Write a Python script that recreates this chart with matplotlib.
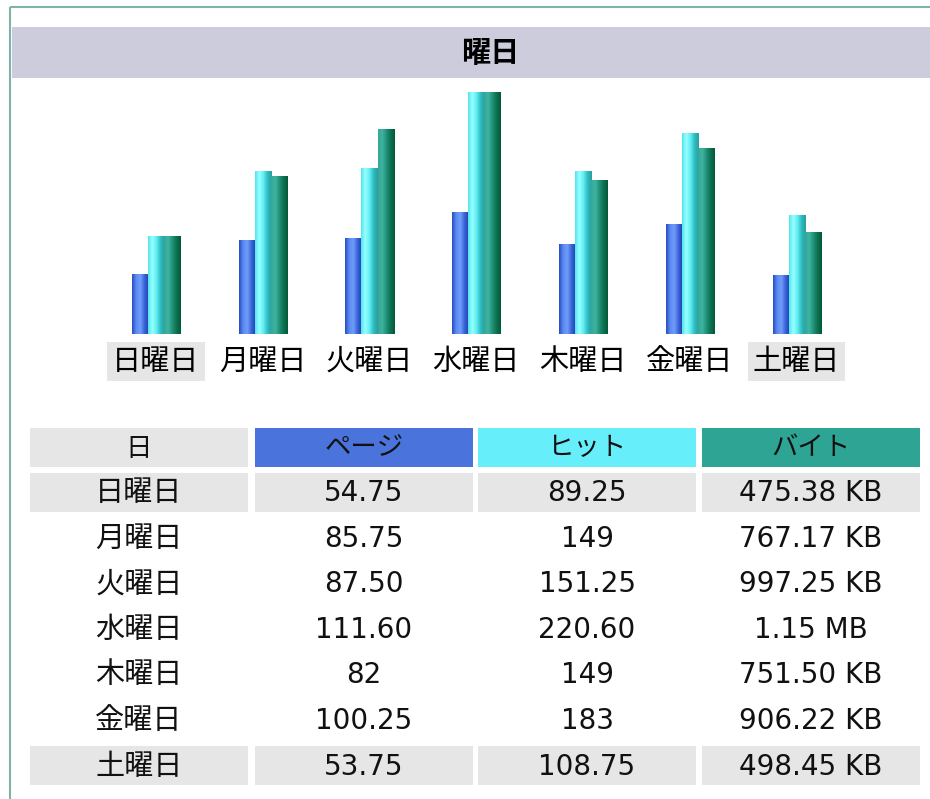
# Day-of-week traffic (AWStats style)
import numpy as np
import matplotlib.pyplot as plt
from matplotlib.colors import LinearSegmentedColormap
from matplotlib.patches import Rectangle

plt.rcParams['font.family'] = ['Noto Sans CJK JP', 'DejaVu Sans']

# data
days = ["日曜日", "月曜日", "火曜日", "水曜日", "木曜日", "金曜日", "土曜日"]
pages = [54.75, 85.75, 87.50, 111.60, 82, 100.25, 53.75]
hits = [89.25, 149, 151.25, 220.60, 149, 183, 108.75]
bytes_kb = [475.38, 767.17, 997.25, 1177.6, 751.50, 906.22, 498.45]
headers = ["日", "ページ", "ヒット", "バイト"]
weekend = [0, 6]

W, H = 930, 799
fig = plt.figure(figsize=(W / 100, H / 100), dpi=100)

# background axes in pixel coordinates for frame, title band and table
bg = fig.add_axes([0, 0, 1, 1])
bg.set_xlim(0, W)
bg.set_ylim(H, 0)
bg.axis("off")

bg.add_patch(Rectangle((10, 7), W, H, fill=False, edgecolor="#7fb3aa", lw=1.5))
bg.add_patch(Rectangle((12, 27), W, 51, facecolor="#ccccdd", edgecolor="none"))
bg.text(490, 53, "曜日", ha="center", va="center", fontsize=21, fontweight="bold")

# table
col_left = [30, 255, 478, 702]
col_w = 218
head_colors = ["#e6e6e6", "#4a74dc", "#66eefa", "#2ea495"]
head_y = 447
row_y0 = 492
row_step = 45.6
cell_h = 39

for c in range(4):
    bg.add_patch(Rectangle((col_left[c], head_y - cell_h / 2), col_w, cell_h,
                           facecolor=head_colors[c], edgecolor="none"))
    bg.text(col_left[c] + col_w / 2, head_y + 1, headers[c], ha="center", va="center",
            fontsize=19, color="#111111")


def fmt_num(v):
    return str(int(v)) if float(v).is_integer() else f"{v:.2f}"


def fmt_bytes(kb):
    return f"{kb / 1024:.2f} MB" if kb >= 1024 else f"{kb:.2f} KB"


for i, d in enumerate(days):
    y = row_y0 + row_step * i
    if i in weekend:
        for c in range(4):
            bg.add_patch(Rectangle((col_left[c], y - cell_h / 2), col_w, cell_h,
                                   facecolor="#e6e6e6", edgecolor="none"))
    vals = [d, fmt_num(pages[i]), fmt_num(hits[i]), fmt_bytes(bytes_kb[i])]
    for c in range(4):
        fam = ['Noto Sans CJK JP'] if c == 0 else ['DejaVu Sans']
        bg.text(col_left[c] + col_w / 2, y + 1, vals[c], ha="center", va="center",
                fontsize=21 if c == 0 else 20, family=fam, color="#111111")

# bar chart axes: bottom at y=334 px, top at 85 px
ax = fig.add_axes([100 / W, (H - 334) / H, 750 / W, 249 / H])
ax.patch.set_alpha(0)
for s in ax.spines.values():
    s.set_visible(False)

x = np.arange(len(days))
bw = 0.15
max_h = max(hits)
max_b = max(bytes_kb)
p_norm = np.array(pages) / max_h
h_norm = np.array(hits) / max_h
b_norm = np.array(bytes_kb) / max_b

cmaps = [
    LinearSegmentedColormap.from_list("p", ["#2a4cc4", "#5b8cf2", "#6f9cf8", "#3a62d6", "#1f3fb4"]),
    LinearSegmentedColormap.from_list("h", ["#4fe6ee", "#9affff", "#60eef2", "#2fbcc0", "#2a9ea0"]),
    LinearSegmentedColormap.from_list("b", ["#34a898", "#3eb4a0", "#209078", "#0e7050", "#005a38"]),
]
grad = np.linspace(0, 1, 64).reshape(1, -1)

for k, (vals, cm) in enumerate(zip([p_norm, h_norm, b_norm], cmaps)):
    bars = ax.bar(x + (k - 1) * bw, vals, bw, color=cm(0.5), linewidth=0, zorder=2)
    for b in bars:
        bx, by = b.get_x(), b.get_y()
        im = ax.imshow(grad, cmap=cm, aspect="auto", zorder=3,
                       extent=[bx, bx + b.get_width(), by, by + b.get_height()])
        im.set_clip_path(b)

ax.set_xlim(-0.524, 6.5)
ax.set_ylim(0, 1.029)
ax.set_yticks([])
ax.set_xticks(x)
ax.set_xticklabels(days, fontsize=21)
ax.tick_params(axis="x", length=0, pad=9)
for i, lab in enumerate(ax.get_xticklabels()):
    if i in weekend:
        lab.set_bbox(dict(facecolor="#e6e6e6", edgecolor="none", pad=3.5))

fig.savefig("out.png", dpi=100)
